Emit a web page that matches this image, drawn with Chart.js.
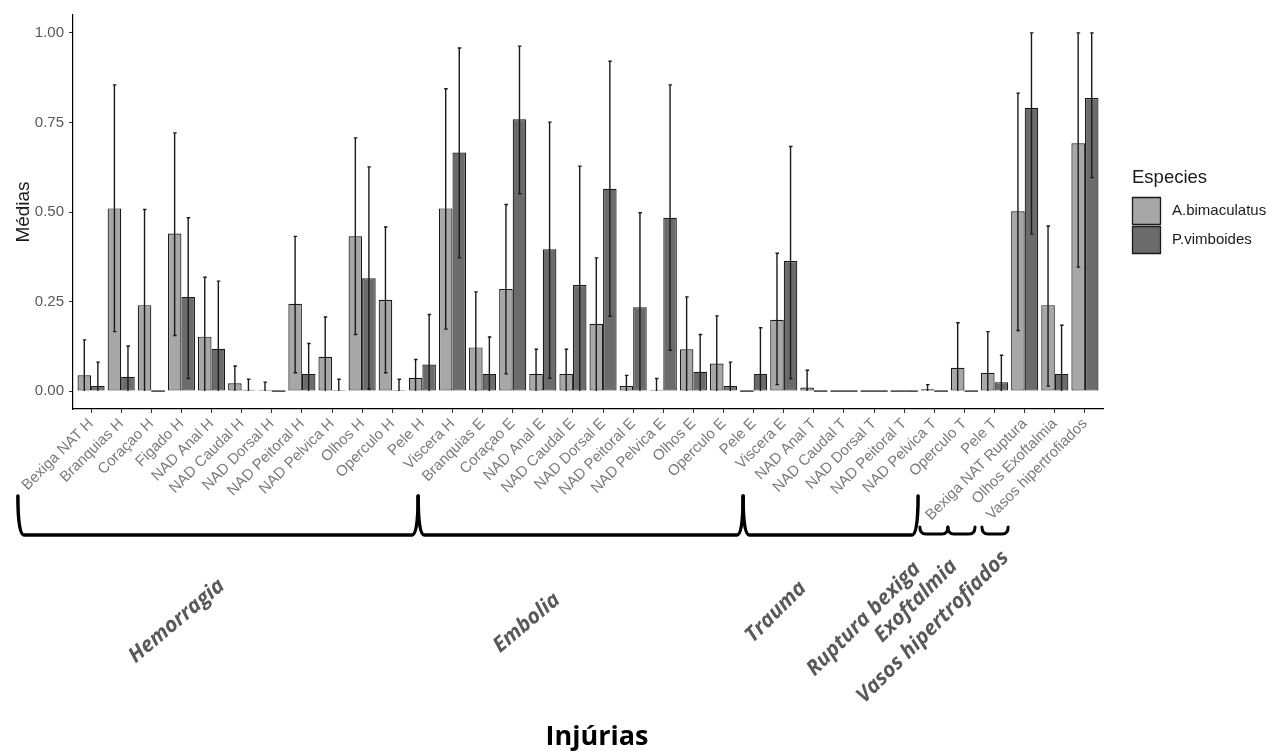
<!DOCTYPE html>
<html>
<head>
<meta charset="utf-8">
<title>Médias por injúria</title>
<script src="https://cdn.jsdelivr.net/npm/chart.js@4.4.1/dist/chart.umd.min.js"></script>
<style>
    html, body { margin: 0; padding: 0; background: #fff; }
    #wrap { width: 1277px; height: 751px; }
</style>
</head>
<body>
<div id="wrap"><canvas id="injuries-chart" width="1277" height="751"></canvas></div>
<script>
var categories = [
    'Bexiga NAT H', 'Branquias H', 'Coraçao H', 'Figado H', 'NAD Anal H', 'NAD Caudal H',
    'NAD Dorsal H', 'NAD Peitoral H', 'NAD Pelvica H', 'Olhos H', 'Operculo H', 'Pele H',
    'Viscera H', 'Branquias E', 'Coraçao E', 'NAD Anal E', 'NAD Caudal E', 'NAD Dorsal E',
    'NAD Peitoral E', 'NAD Pelvica E', 'Olhos E', 'Operculo E', 'Pele E', 'Viscera E',
    'NAD Anal T', 'NAD Caudal T', 'NAD Dorsal T', 'NAD Peitoral T', 'NAD Pelvica T',
    'Operculo T', 'Pele T', 'Bexiga NAT Ruptura', 'Olhos Exoftalmia', 'Vasos hipertrofiados'
];

var species = ['A.bimaculatus', 'P.vimboides'];

// injury groups along the x axis, with how many categories each one covers
var groupNames = ['Hemorragia', 'Embolia', 'Trauma', 'Ruptura bexiga', 'Exoftalmia', 'Vasos hipertrofiados'];
var groupSizes = [13, 11, 7, 1, 1, 1];

var yTicks = [0, 0.25, 0.5, 0.75, 1];

var abMeans = [0.044, 0.510, 0.240, 0.440, 0.152, 0.022, 0.004, 0.244, 0.096, 0.432, 0.255, 0.037,
    0.510, 0.122, 0.285, 0.048, 0.048, 0.188, 0.014, 0.004, 0.117, 0.077, 0, 0.199,
    0.010, 0, 0, 0, 0.005, 0.065, 0.051, 0.502, 0.240, 0.692];
var abUpper = [0.143, 0.855, 0.507, 0.721, 0.318, 0.070, 0.025, 0.432, 0.207, 0.707, 0.458, 0.088,
    0.844, 0.277, 0.521, 0.117, 0.117, 0.372, 0.044, 0.035, 0.263, 0.210, 0, 0.385,
    0.058, 0, 0, 0, 0.018, 0.191, 0.166, 0.832, 0.461, 1.0];
var abLower = [0, 0.166, 0, 0.155, 0, 0, 0, 0.051, 0, 0.158, 0.051, 0,
    0.173, 0, 0.048, 0, 0, 0, 0, 0, 0, 0, 0, 0.018,
    0, 0, 0, 0, 0, 0, 0, 0.169, 0.014, 0.346];

var pvMeans = [0.014, 0.040, 0, 0.263, 0.118, 0.004, 0, 0.048, 0.003, 0.315, 0.003, 0.074,
    0.666, 0.048, 0.759, 0.396, 0.296, 0.565, 0.234, 0.484, 0.054, 0.014, 0.048, 0.363,
    0, 0, 0, 0, 0, 0, 0.025, 0.791, 0.048, 0.818];
var pvUpper = [0.081, 0.126, 0, 0.484, 0.307, 0.033, 0, 0.133, 0.033, 0.626, 0.033, 0.214,
    0.958, 0.151, 0.963, 0.751, 0.628, 0.921, 0.498, 0.855, 0.158, 0.081, 0.177, 0.683,
    0, 0, 0, 0, 0, 0, 0.100, 1.0, 0.184, 1.0];
var pvLower = [0, 0, 0, 0.035, 0, 0, 0, 0, 0, 0.005, 0, 0,
    0.372, 0, 0.551, 0.036, 0, 0.209, 0, 0.114, 0, 0, 0, 0.035,
    0, 0, 0, 0, 0, 0, 0, 0.439, 0, 0.596];

var InjuryChart = function () {

    var sansFont = "'Liberation Sans', Arial, sans-serif";
    var noteFont = "'Open Sans', 'Noto Sans', sans-serif";
    var outline = '#1a1a1a';

    var means = [abMeans, pvMeans];
    var bounds = [[abLower, abUpper], [pvLower, pvUpper]];

    // brace spans and label anchors in x units, label offset below the axis in px
    var braceLayout = [
        { from: -2.43, to: 10.86, small: false, labelAt: 2.85, labelDy: 212, angle: -40 },
        { from: 10.86, to: 21.65, small: false, labelAt: 14.47, labelDy: 214, angle: -40 },
        { from: 21.65, to: 27.46, small: false, labelAt: 22.74, labelDy: 203, angle: -45 },
        { from: 27.52, to: 28.45, small: true, labelAt: 25.66, labelDy: 210, angle: -45 },
        { from: 28.45, to: 29.35, small: true, labelAt: 27.39, labelDy: 192, angle: -45 },
        { from: 29.58, to: 30.45, small: true, labelAt: 27.95, labelDy: 218, angle: -45 }
    ];

    var toPoints = function (values) {
        return values.map(function (v, i) {
            return { x: i, y: v };
        });
    };

    var errorBars = {
        id: 'errorBars',
        afterDatasetsDraw: function (chart) {
            var ctx = chart.ctx;
            var y = chart.scales.y;
            var zero = y.getPixelForValue(0);

            ctx.save();
            ctx.strokeStyle = outline;
            chart.data.datasets.forEach(function (ds, d) {
                var meta = chart.getDatasetMeta(d);
                meta.data.forEach(function (bar, i) {
                    var half = bar.width / 2;
                    // empty bars still show as a flat outline on the baseline
                    if (means[d][i] === 0) {
                        ctx.lineWidth = 1.3;
                        ctx.beginPath();
                        ctx.moveTo(bar.x - half, zero);
                        ctx.lineTo(bar.x + half, zero);
                        ctx.stroke();
                    }
                    var lo = bounds[d][0][i];
                    var hi = bounds[d][1][i];
                    if (hi - lo < 1e-6) {
                        return;
                    }
                    var yLo = y.getPixelForValue(lo);
                    var yHi = y.getPixelForValue(hi);
                    ctx.lineWidth = 1.4;
                    ctx.beginPath();
                    ctx.moveTo(bar.x, yLo);
                    ctx.lineTo(bar.x, yHi);
                    ctx.moveTo(bar.x - 1.5, yHi);
                    ctx.lineTo(bar.x + 2, yHi);
                    if (lo > 0) {
                        ctx.moveTo(bar.x - 1.5, yLo);
                        ctx.lineTo(bar.x + 2, yLo);
                    }
                    ctx.stroke();
                });
            });
            ctx.restore();
        }
    };

    var drawBrace = function (ctx, x0, x1, top, base) {
        var r = Math.min(6, (x1 - x0) / 4);
        ctx.beginPath();
        ctx.moveTo(x0, top);
        ctx.quadraticCurveTo(x0, base, x0 + r, base);
        ctx.lineTo(x1 - r, base);
        ctx.quadraticCurveTo(x1, base, x1, top);
        ctx.stroke();
    };

    var annotations = {
        id: 'annotations',
        afterDraw: function (chart) {
            var ctx = chart.ctx;
            var xs = chart.scales.x;
            var area = chart.chartArea;

            ctx.save();

            // braces grouping the injuries
            ctx.strokeStyle = '#000';
            ctx.lineJoin = 'round';
            ctx.lineCap = 'round';
            braceLayout.forEach(function (b) {
                var x0 = xs.getPixelForValue(b.from);
                var x1 = xs.getPixelForValue(b.to);
                ctx.lineWidth = b.small ? 3 : 3.5;
                if (b.small) {
                    drawBrace(ctx, x0, x1, area.bottom + 118, area.bottom + 125);
                } else {
                    drawBrace(ctx, x0, x1, area.bottom + 87, area.bottom + 126);
                }
            });

            // group names
            ctx.fillStyle = '#595959';
            ctx.font = 'italic bold 21px ' + noteFont;
            ctx.textAlign = 'center';
            ctx.textBaseline = 'middle';
            groupNames.forEach(function (name, g) {
                var b = braceLayout[g];
                ctx.save();
                ctx.translate(xs.getPixelForValue(b.labelAt), area.bottom + b.labelDy);
                ctx.rotate(b.angle * Math.PI / 180);
                ctx.fillText(name, 0, 0);
                ctx.restore();
            });

            // x axis title
            ctx.fillStyle = '#000';
            ctx.font = 'bold 27px ' + noteFont;
            ctx.fillText('Injúrias', (area.left + area.right) / 2 + 9, area.bottom + 328);

            // legend
            var lx = area.right + 29;
            var ly = 178;
            ctx.textAlign = 'left';
            ctx.fillStyle = '#1a1a1a';
            ctx.font = '18.5px ' + sansFont;
            ctx.fillText('Especies', lx, ly);
            ctx.font = '15px ' + sansFont;
            chart.data.datasets.forEach(function (ds, d) {
                var top = ly + 19 + d * 29;
                ctx.fillStyle = ds.backgroundColor;
                ctx.fillRect(lx, top, 29, 28);
                ctx.strokeStyle = outline;
                ctx.lineWidth = 1.3;
                ctx.strokeRect(lx + 0.5, top + 0.5, 28, 27);
                ctx.fillStyle = '#1a1a1a';
                ctx.fillText(ds.label, lx + 40, top + 14);
            });

            ctx.restore();
        }
    };

    var draw = function () {
        var ctx = document.getElementById('injuries-chart');

        new Chart(ctx, {
            type: 'bar',
            data: {
                datasets: [
                    {
                        label: species[0],
                        data: toPoints(abMeans),
                        backgroundColor: '#a7a7a7',
                        borderColor: outline,
                        borderWidth: 1.2,
                        borderSkipped: false
                    },
                    {
                        label: species[1],
                        data: toPoints(pvMeans),
                        backgroundColor: '#6b6b6b',
                        borderColor: outline,
                        borderWidth: 1.2,
                        borderSkipped: false
                    }
                ]
            },
            options: {
                responsive: false,
                animation: false,
                devicePixelRatio: 1,
                categoryPercentage: 0.9,
                barPercentage: 1.0,
                layout: {
                    padding: { top: 15, right: 174, bottom: 0, left: 0 }
                },
                plugins: {
                    legend: { display: false },
                    tooltip: { enabled: false }
                },
                scales: {
                    x: {
                        type: 'linear',
                        min: -0.6,
                        max: categories.length - 0.4,
                        offset: false,
                        grid: { offset: false, drawOnChartArea: false, drawTicks: true, tickLength: 4, color: '#333' },
                        border: { display: true, color: '#000', width: 1.2 },
                        afterBuildTicks: function (axis) {
                            axis.ticks = categories.map(function (c, i) { return { value: i }; });
                        },
                        ticks: {
                            autoSkip: false,
                            minRotation: 45,
                            maxRotation: 45,
                            padding: 2,
                            color: '#7a7a7a',
                            font: { family: sansFont, size: 15 },
                            callback: function (v) { return categories[v]; }
                        },
                        afterFit: function (scale) {
                            scale.height = 342;
                        }
                    },
                    y: {
                        min: -0.05,
                        max: 1.05,
                        grid: { drawOnChartArea: false, drawTicks: true, tickLength: 4, color: '#333' },
                        border: { display: true, color: '#000', width: 1.2 },
                        afterBuildTicks: function (axis) {
                            axis.ticks = yTicks.map(function (v) { return { value: v }; });
                        },
                        ticks: {
                            padding: 5,
                            color: '#595959',
                            font: { family: sansFont, size: 15 },
                            callback: function (v) { return Number(v).toFixed(2); }
                        },
                        title: {
                            display: true,
                            text: 'Médias',
                            color: '#1a1a1a',
                            padding: { top: 12, bottom: 4 },
                            font: { family: sansFont, size: 19 }
                        },
                        afterFit: function (scale) {
                            scale.width = 73;
                        }
                    }
                }
            },
            plugins: [errorBars, annotations]
        });
    };

    return {
        init: function () {
            draw();
        }
    };

}();

InjuryChart.init();
</script>
</body>
</html>
